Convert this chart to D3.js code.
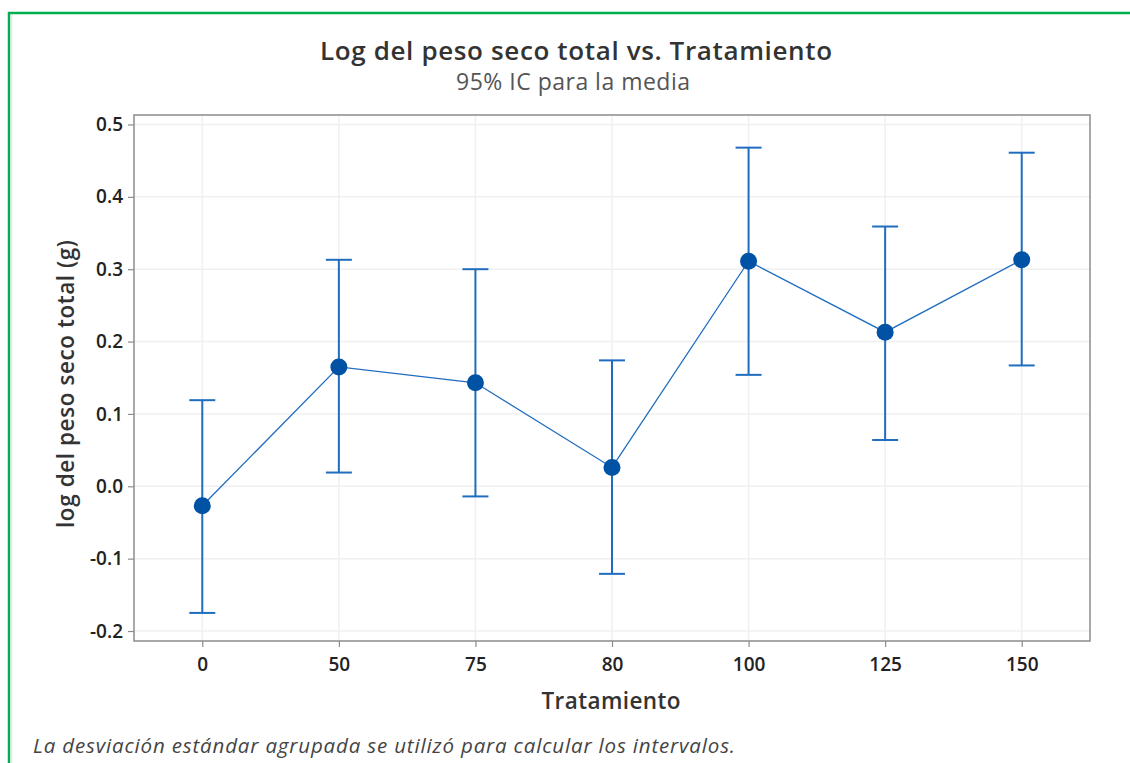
<!DOCTYPE html>
<html>
<head>
<meta charset="utf-8">
<script src="https://cdn.jsdelivr.net/npm/d3@7"></script>
<style>
  body { margin: 0; background: #fff; }
  svg { font-family: "Open Sans", "Noto Sans", sans-serif; }
</style>
</head>
<body>
<div id="chart"></div>
<script>
// data
let tratamientos = ["0", "50", "75", "80", "100", "125", "150"];
let medias = [-0.027, 0.165, 0.143, 0.026, 0.311, 0.213, 0.313];
let icInferior = [-0.175, 0.019, -0.014, -0.121, 0.154, 0.064, 0.167];
let icSuperior = [0.119, 0.313, 0.300, 0.174, 0.468, 0.359, 0.461];
let yTicks = [-0.2, -0.1, 0.0, 0.1, 0.2, 0.3, 0.4, 0.5];

let svgWidth = 1130;
let svgHeight = 763;

let plot = { left: 134, top: 115, right: 1090, bottom: 641 };

let svg = d3.select("#chart")
  .append("svg")
  .attr("width", svgWidth)
  .attr("height", svgHeight);

// green frame around everything
svg.append("path")
  .attr("d", `M9,${svgHeight + 5} L9,13 L${svgWidth + 5},13`)
  .attr("fill", "none")
  .attr("stroke", "#00b050")
  .attr("stroke-width", 2.5);
svg.append("line")
  .attr("x1", 11.5).attr("x2", 11.5)
  .attr("y1", 15).attr("y2", svgHeight)
  .attr("stroke", "#e6e6e6").attr("stroke-width", 1.5);

let xScale = d3.scalePoint()
  .domain(tratamientos)
  .range([plot.left, plot.right])
  .padding(0.5);

let yScale = d3.scaleLinear()
  .domain([-0.2138, 0.5131])
  .range([plot.bottom, plot.top]);

// grid
svg.append("g")
  .selectAll("line")
  .data(yTicks)
  .enter()
  .append("line")
  .attr("x1", plot.left).attr("x2", plot.right)
  .attr("y1", d => yScale(d)).attr("y2", d => yScale(d))
  .attr("stroke", "#f0f0f0").attr("stroke-width", 1.5);

svg.append("g")
  .selectAll("line")
  .data(tratamientos)
  .enter()
  .append("line")
  .attr("x1", d => xScale(d)).attr("x2", d => xScale(d))
  .attr("y1", plot.top).attr("y2", plot.bottom)
  .attr("stroke", "#f0f0f0").attr("stroke-width", 1.5);

// axes
let fmt = d3.format(".1f");
let leftAxis = d3.axisLeft(yScale)
  .tickValues(yTicks)
  .tickFormat(d => fmt(d).replace("−", "-"))
  .tickSize(6)
  .tickSizeOuter(0)
  .tickPadding(5);

let bottomAxis = d3.axisBottom(xScale)
  .tickSize(6)
  .tickSizeOuter(0)
  .tickPadding(8);

let gy = svg.append("g")
  .attr("transform", `translate(${plot.left}, 0)`)
  .call(leftAxis);

let gx = svg.append("g")
  .attr("transform", `translate(0, ${plot.bottom})`)
  .call(bottomAxis);

[gx, gy].forEach(g => {
  g.select(".domain").remove();
  g.selectAll(".tick line").attr("stroke", "#8c8c8c").attr("stroke-width", 1.2);
  g.selectAll(".tick text")
    .attr("fill", "#222")
    .attr("font-size", "19px")
    .attr("font-weight", 600)
    .attr("font-family", "'Open Sans', sans-serif");
});
gx.selectAll(".tick text").attr("dy", "0.85em");

// plot frame
svg.append("rect")
  .attr("x", plot.left).attr("y", plot.top)
  .attr("width", plot.right - plot.left)
  .attr("height", plot.bottom - plot.top)
  .attr("fill", "none")
  .attr("stroke", "#8c8c8c")
  .attr("stroke-width", 1.5);

let rows = tratamientos.map((t, i) => ({
  t: t, media: medias[i], lo: icInferior[i], hi: icSuperior[i]
}));

let azulLinea = "#1f6dbf";
let azulPunto = "#0052a5";
let capHalf = 13;

// connecting line
svg.append("path")
  .datum(rows)
  .attr("fill", "none")
  .attr("stroke", azulLinea)
  .attr("stroke-width", 1.3)
  .attr("d", d3.line().x(d => xScale(d.t)).y(d => yScale(d.media)));

// error bars
let bars = svg.append("g")
  .selectAll("g")
  .data(rows)
  .enter()
  .append("g")
  .attr("stroke", azulLinea)
  .attr("stroke-width", 2);

bars.append("line")
  .attr("x1", d => xScale(d.t)).attr("x2", d => xScale(d.t))
  .attr("y1", d => yScale(d.lo)).attr("y2", d => yScale(d.hi));
bars.append("line")
  .attr("x1", d => xScale(d.t) - capHalf).attr("x2", d => xScale(d.t) + capHalf)
  .attr("y1", d => yScale(d.hi)).attr("y2", d => yScale(d.hi));
bars.append("line")
  .attr("x1", d => xScale(d.t) - capHalf).attr("x2", d => xScale(d.t) + capHalf)
  .attr("y1", d => yScale(d.lo)).attr("y2", d => yScale(d.lo));

// means
svg.append("g")
  .selectAll("circle")
  .data(rows)
  .enter()
  .append("circle")
  .attr("cx", d => xScale(d.t))
  .attr("cy", d => yScale(d.media))
  .attr("r", 8.5)
  .attr("fill", azulPunto);

// titles
svg.append("text")
  .attr("x", 576).attr("y", 60)
  .attr("text-anchor", "middle")
  .attr("font-size", "26px")
  .attr("font-weight", 600)
  .attr("fill", "#333")
  .attr("textLength", 512)
  .attr("lengthAdjust", "spacing")
  .text("Log del peso seco total vs. Tratamiento");

svg.append("text")
  .attr("x", 573).attr("y", 90)
  .attr("text-anchor", "middle")
  .attr("font-size", "23px")
  .attr("fill", "#555")
  .attr("textLength", 234)
  .attr("lengthAdjust", "spacing")
  .text("95% IC para la media");

svg.append("text")
  .attr("x", 611).attr("y", 709)
  .attr("text-anchor", "middle")
  .attr("font-size", "22.5px")
  .attr("font-weight", 600)
  .attr("fill", "#333")
  .attr("textLength", 139)
  .attr("lengthAdjust", "spacing")
  .text("Tratamiento");

svg.append("text")
  .attr("transform", "rotate(-90)")
  .attr("x", -384).attr("y", 74)
  .attr("text-anchor", "middle")
  .attr("font-size", "22.5px")
  .attr("font-weight", 600)
  .attr("fill", "#333")
  .attr("textLength", 288)
  .attr("lengthAdjust", "spacing")
  .text("log del peso seco total (g)");

svg.append("text")
  .attr("x", 33).attr("y", 753)
  .attr("font-size", "20.5px")
  .attr("font-style", "italic")
  .attr("fill", "#444")
  .attr("textLength", 702)
  .attr("lengthAdjust", "spacing")
  .text("La desviación estándar agrupada se utilizó para calcular los intervalos.");
</script>
</body>
</html>
